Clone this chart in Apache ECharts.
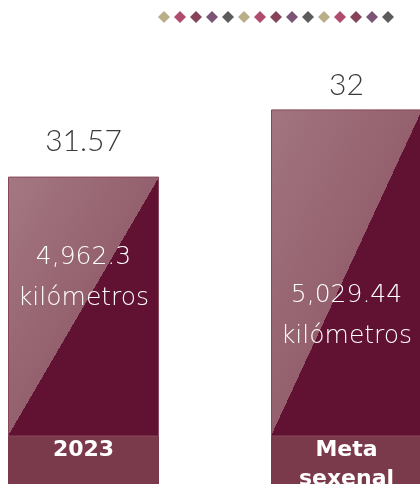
<!DOCTYPE html>
<html>
<head>
<meta charset="utf-8">
<title>Kilómetros</title>
<script src="https://cdn.jsdelivr.net/npm/echarts@6/dist/echarts.min.js"></script>
<style>
  html, body { margin: 0; padding: 0; background: #ffffff; }
  #chart { width: 420px; height: 484px; }
</style>
</head>
<body>
<div id="chart"></div>
<script>
// Categories and values
const categories = ['2023', 'Meta\nsexenal'];
const values = [31.57, 32];
const kmLabels = ['4,962.3', '5,029.44'];
const unitLabel = 'kilómetros';

// Decorative diamond row colours (one cycle, repeated)
const diamondCycle = ['#a99a6a', '#9c1e4a', '#661533', '#5a2b55', '#333333'];
const diamondCount = 15;

// Axis range
const yMin = 29.91;
const yMax = 32.70;

const LIGHT_TOP = '#a67c85';
const LIGHT_LOW = '#94606e';
const DARK = '#611131';
const BAND = '#7b3a4c';
const BAR_W = 151;

const chart = echarts.init(document.getElementById('chart'), null, { renderer: 'canvas' });

const diamondData = [];
for (let i = 0; i < diamondCount; i++) {
  diamondData.push({ value: [i, 0], itemStyle: { color: diamondCycle[i % diamondCycle.length] } });
}

// Per-bar placement of the value and the kilometre labels
const topDistance = [20, 9];
const innerOffset = [-28, 43];

function barColor(w, h) {
  // hard diagonal split from top-right corner to bottom-left corner
  const a = h / w, b = w / h;
  return new echarts.graphic.LinearGradient(0.5 - a / 2, 0.5 - b / 2, 0.5 + a / 2, 0.5 + b / 2, [
    { offset: 0, color: LIGHT_TOP },
    { offset: 0.5, color: LIGHT_LOW },
    { offset: 0.5, color: DARK },
    { offset: 1, color: DARK }
  ]);
}

function buildOption(colors) {
  return {
    animation: false,
    grid: [
      { left: -48, right: -58, top: 0, bottom: 48, containLabel: false, outerBoundsMode: 'none' },
      { left: 156, width: 240, top: 12, height: 10, containLabel: false, outerBoundsMode: 'none' }
    ],
    xAxis: [
      {
        type: 'category', gridIndex: 0, data: categories,
        axisLine: { show: false }, axisTick: { show: false },
        axisLabel: {
          interval: 0, margin: 0,
          color: '#ffffff', fontFamily: 'DejaVu Sans', fontWeight: 'bold', fontSize: 22, lineHeight: 29,
          backgroundColor: BAND, width: BAR_W, height: 60, align: 'center', verticalAlign: 'top',
          padding: [0, 0, 0, 0]
        }
      },
      {
        type: 'category', gridIndex: 1, data: diamondData.map((d, i) => i),
        show: false
      }
    ],
    yAxis: [
      { type: 'value', gridIndex: 0, min: yMin, max: yMax, show: false, splitLine: { show: false } },
      { type: 'value', gridIndex: 1, min: -1, max: 1, show: false, splitLine: { show: false } }
    ],
    series: [
      {
        type: 'bar', xAxisIndex: 0, yAxisIndex: 0, barWidth: BAR_W,
        data: values.map((v, i) => ({
          value: v,
          itemStyle: { color: colors ? colors[i] : DARK },
          label: { distance: topDistance[i] }
        })),
        itemStyle: { borderColor: '#87485b', borderWidth: 1 },
        label: {
          show: true, position: 'top',
          formatter: p => String(p.value),
          color: '#3a3a3a', fontFamily: 'Lato', fontWeight: 300, fontSize: 30
        },
        z: 2
      },
      {
        type: 'bar', xAxisIndex: 0, yAxisIndex: 0, barWidth: BAR_W, barGap: '-100%',
        data: values.map((v, i) => ({
          value: v,
          label: { offset: [0, innerOffset[i]], formatter: kmLabels[i] + '\n' + unitLabel }
        })),
        itemStyle: { color: 'rgba(0,0,0,0)' },
        label: {
          show: true, position: 'inside',
          color: '#ffffff', fontFamily: 'DejaVu Sans', fontWeight: 200, fontSize: 25, lineHeight: 41
        },
        silent: true,
        z: 3
      },
      {
        type: 'scatter', xAxisIndex: 1, yAxisIndex: 1,
        symbol: 'diamond', symbolSize: [12, 12],
        data: diamondData
      }
    ]
  };
}

chart.setOption(buildOption(null));
// Gradient direction depends on each bar's pixel size, taken from the axes
const colors = values.map((v, i) => {
  const top = chart.convertToPixel({ gridIndex: 0 }, [i, v]);
  const bottom = chart.convertToPixel({ gridIndex: 0 }, [i, yMin]);
  return barColor(BAR_W, bottom[1] - top[1]);
});
chart.setOption(buildOption(colors));
</script>
</body>
</html>
